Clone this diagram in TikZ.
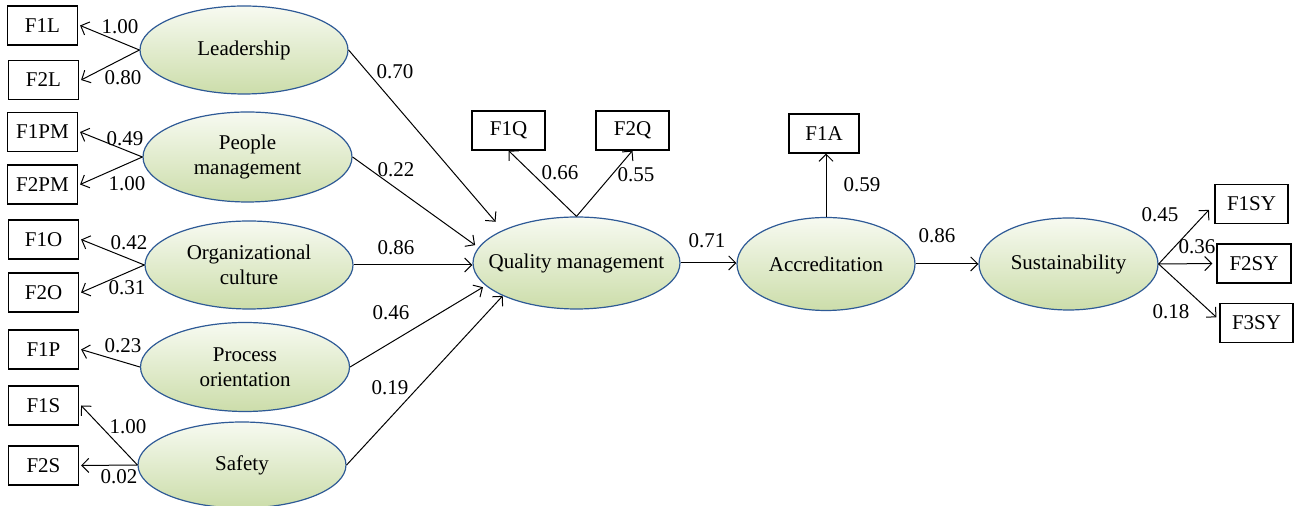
\documentclass[tikz,border=0pt]{standalone}
\usepackage{fontspec}
\setmainfont{Liberation Serif}
\usetikzlibrary{arrows.meta,shapes.geometric}

\definecolor{latentline}{RGB}{46,90,150}
\definecolor{latenttop}{RGB}{247,250,241}
\definecolor{latentbot}{RGB}{204,221,170}

\tikzset{
    latent/.style={ellipse, draw=latentline, line width=0.6pt, top color=latenttop, bottom color=latentbot, inner sep=0pt, align=center},
    observed/.style={rectangle, draw, line width=0.6pt, minimum width=35pt, minimum height=19.5pt, inner sep=0pt},
    link/.style={line width=0.5pt, -{Straight Barb[length=3.5pt,width=7pt]}},
    weight/.style={inner sep=0pt}
}

\begin{document}
\begin{tikzpicture}[x=0.5pt, y=-0.5pt, font=\fontsize{10.5}{12.5}\selectfont]
            \useasboundingbox (0, 0) rectangle (1295, 506);

            % Latent variables
            \node[latent, minimum width=104pt, minimum height=44pt] (lead) at (244, 50) {Leadership};
            \node[latent, minimum width=104.5pt, minimum height=45pt] (people) at (247.5, 157) {People\\management};
            \node[latent, minimum width=104pt, minimum height=44pt] (culture) at (249, 265) {Organizational\\culture};
            \node[latent, minimum width=104.5pt, minimum height=44.5pt] (process) at (245, 367) {Process\\orientation};
            \node[latent, minimum width=104pt, minimum height=43pt] (safety) at (242, 465) {Safety};
            \node[latent, minimum width=103.5pt, minimum height=46pt, label=center:Quality management] (quality) at (576.5, 263) {};
            \node[latent, minimum width=89pt, minimum height=46.5pt] (accred) at (826, 264) {Accreditation};
            \node[latent, minimum width=89.5pt, minimum height=46pt] (sustain) at (1068.5, 264) {Sustainability};

            % Observed variables
            \node[observed] (f1l) at (42.5, 25.5) {F1L};
            \node[observed] (f2l) at (43.5, 80) {F2L};
            \node[observed] (f1pm) at (42.5, 132) {F1PM};
            \node[observed] (f2pm) at (42.5, 184.5) {F2PM};
            \node[observed] (f1o) at (43.5, 239.5) {F1O};
            \node[observed] (f2o) at (43.5, 292.5) {F2O};
            \node[observed] (f1p) at (43.5, 349.5) {F1P};
            \node[observed] (f1s) at (43.5, 405.5) {F1S};
            \node[observed] (f2s) at (43.5, 465.5) {F2S};
            \node[observed, minimum width=36.5pt] (f1q) at (508.5, 130.5) {F1Q};
            \node[observed, minimum width=36.5pt] (f2q) at (632.5, 130.5) {F2Q};
            \node[observed] (f1a) at (824, 133.5) {F1A};
            \node[observed, minimum width=36.5pt] (f1sy) at (1251.5, 204) {F1SY};
            \node[observed, minimum width=37pt] (f2sy) at (1254, 263.5) {F2SY};
            \node[observed, minimum width=36.5pt] (f3sy) at (1256.5, 323) {F3SY};

            % Loadings, left side
            \draw[link] (lead.west) -- ([xshift=1pt]f1l.east);
            \draw[link] (lead.west) -- ([xshift=1pt]f2l.east);
            \draw[link] (people.west) -- ([xshift=1pt]f1pm.east);
            \draw[link] (people.west) -- ([xshift=1pt]f2pm.east);
            \draw[link] (culture.west) -- ([xshift=1pt]f1o.east);
            \draw[link] (culture.west) -- ([xshift=1pt]f2o.east);
            \draw[link] (process.west) -- ([xshift=1pt]f1p.east);
            \draw[link] (safety.west) -- ([xshift=1pt]f1s.east);
            \draw[link] (safety.west) -- ([xshift=1pt]f2s.east);

            % Paths into quality management
            \draw[link, shorten >=5.5pt] (lead.east) -- (quality.156);
            \draw[link, shorten >=2pt] (people.east) -- (quality.171);
            \draw[link] (culture.east) -- (culture.east -| quality.west);
            \draw[link, shorten >=1.5pt] (process.east) -- (quality.194);
            \draw[link] (safety.east) -- (quality.204);

            % Quality, accreditation, sustainability
            \draw[link] (quality.north) -- (f1q.south);
            \draw[link] (quality.north) -- (f2q.south);
            \draw[link] (quality.east) -- (quality.east -| accred.west);
            \draw[link] (accred.north) -- (accred.north |- f1a.south);
            \draw[link] (accred.east) -- (sustain.west);
            \draw[link, shorten >=4pt] (sustain.east) -- (f1sy.west);
            \draw[link, shorten >=2pt] (sustain.east) -- (f2sy.west);
            \draw[link, shorten >=2pt] (sustain.east) -- ([yshift=1.5pt]f3sy.west);

            % Weights
            \node[weight] (w1) at (120, 27) {1.00};
            \node[weight] (w2) at (123, 78) {0.80};
            \node[weight] (w3) at (125, 139) {0.49};
            \node[weight] (w4) at (127, 184) {1.00};
            \node[weight] (w5) at (129, 243) {0.42};
            \node[weight] (w6) at (127, 288) {0.31};
            \node[weight] (w7) at (123, 346) {0.23};
            \node[weight] (w8) at (128, 427) {1.00};
            \node[weight] (w9) at (119, 477) {0.02};

            \node[weight] (w10) at (395, 72) {0.70};
            \node[weight] (w11) at (396, 170) {0.22};
            \node[weight] (w12) at (396, 248) {0.86};
            \node[weight] (w13) at (391, 313) {0.46};
            \node[weight] (w14) at (390, 388) {0.19};

            \node[weight] (w15) at (560, 173) {0.66};
            \node[weight] (w16) at (636, 175) {0.55};
            \node[weight] (w17) at (707, 241) {0.71};
            \node[weight] (w18) at (862, 185) {0.59};
            \node[weight] (w19) at (937, 236) {0.86};
            \node[weight] (w20) at (1160, 215) {0.45};
            \node[weight] (w21) at (1197, 247) {0.36};
            \node[weight] (w22) at (1171, 312) {0.18};

        \end{tikzpicture}
\end{document}
